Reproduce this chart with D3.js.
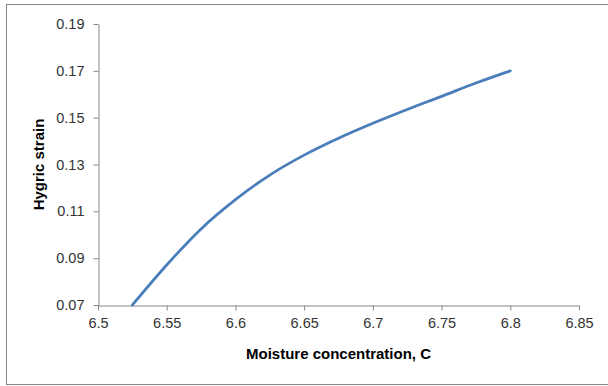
<!DOCTYPE html>
<html>
<head>
<meta charset="utf-8">
<script src="https://cdn.jsdelivr.net/npm/d3@7"></script>
<style>
  html, body { margin: 0; padding: 0; background: #fff; }
  svg { display: block; }
  .tick text { font-family: "Liberation Sans", Arial, sans-serif; font-size: 14.5px; fill: #333; }
  .axis-title { font-family: "Liberation Sans", Arial, sans-serif; font-size: 15px; font-weight: bold; fill: #000; }
</style>
</head>
<body>
<script>
// Moisture concentration C and the hygric strain measured at it
const moisture = [6.525, 6.55, 6.575, 6.6, 6.625, 6.65, 6.675, 6.7, 6.725, 6.75, 6.775, 6.8];
const strain   = [0.0700, 0.0871, 0.1025, 0.1150, 0.1255, 0.1340, 0.1412, 0.1476, 0.1535, 0.1591, 0.1648, 0.1700];

// Axis ticks and their labels
const xTicks = [6.5, 6.55, 6.6, 6.65, 6.7, 6.75, 6.8, 6.85];
const xTickLabels = ["6.5", "6.55", "6.6", "6.65", "6.7", "6.75", "6.8", "6.85"];
const yTicks = [0.07, 0.09, 0.11, 0.13, 0.15, 0.17, 0.19];
const yTickLabels = ["0.07", "0.09", "0.11", "0.13", "0.15", "0.17", "0.19"];

const W = 608, H = 386;
const plot = { left: 98, right: 579, top: 24, bottom: 305 };

const svg = d3.select("body").append("svg")
  .attr("width", W).attr("height", H);

// chart area frame
svg.append("rect")
  .attr("x", 6.5).attr("y", 4.5)
  .attr("width", W + 10).attr("height", 380)
  .attr("fill", "#fff")
  .attr("stroke", "#868686")
  .attr("stroke-width", 1);

const x = d3.scaleLinear().domain([6.5, 6.85]).range([plot.left, plot.right]);
const y = d3.scaleLinear().domain([0.07, 0.19]).range([plot.bottom, plot.top]);

const xAxis = d3.axisBottom(x)
  .tickValues(xTicks)
  .tickFormat((d, i) => xTickLabels[i])
  .tickSizeInner(5).tickSizeOuter(0).tickPadding(7);

const yAxis = d3.axisLeft(y)
  .tickValues(yTicks)
  .tickFormat((d, i) => yTickLabels[i])
  .tickSizeInner(5).tickSizeOuter(0).tickPadding(9);

const gx = svg.append("g")
  .attr("transform", `translate(0,${plot.bottom + 0.5})`)
  .call(xAxis);
const gy = svg.append("g")
  .attr("transform", `translate(${plot.left + 0.5},0)`)
  .call(yAxis);

[gx, gy].forEach(g => {
  g.select(".domain").attr("stroke", "#868686");
  g.selectAll(".tick line").attr("stroke", "#868686");
  g.attr("font-family", null).attr("font-size", null);
});

// strain curve
const pts = moisture.map((m, i) => [m, strain[i]]);
svg.append("path")
  .datum(pts)
  .attr("fill", "none")
  .attr("stroke", "#4a7ebb")
  .attr("stroke-width", 2.75)
  .attr("stroke-linecap", "round")
  .attr("stroke-linejoin", "round")
  .attr("d", d3.line()
    .x(d => x(d[0]))
    .y(d => y(d[1]))
    .curve(d3.curveMonotoneX));

// axis titles
svg.append("text")
  .attr("class", "axis-title")
  .attr("x", (plot.left + plot.right) / 2)
  .attr("y", 359)
  .attr("text-anchor", "middle")
  .text("Moisture concentration, C");

svg.append("text")
  .attr("class", "axis-title")
  .attr("transform", `translate(44,${(plot.top + plot.bottom) / 2}) rotate(-90)`)
  .attr("text-anchor", "middle")
  .text("Hygric strain");
</script>
</body>
</html>
